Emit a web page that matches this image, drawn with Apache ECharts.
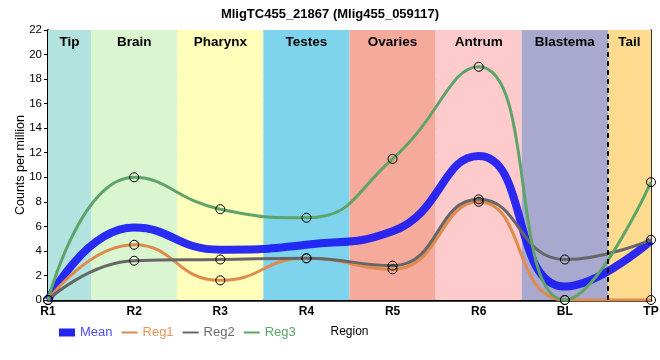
<!DOCTYPE html>
<html><head><meta charset="utf-8">
<script src="https://cdn.jsdelivr.net/npm/echarts@6/dist/echarts.min.js"></script>
<style>html,body{margin:0;padding:0;background:#fff}#c{width:660px;height:360px}</style>
</head><body><div id="c"></div>
<script>
const categories = ['R1','R2','R3','R4','R5','R6','BL','TP'];
const regions = ['Tip','Brain','Pharynx','Testes','Ovaries','Antrum','Blastema','Tail'];
const regionColors = ['#b3e3de','#d9f6d1','#ffffbb','#7ed4ec','#f5aa9c','#fecbcc','#a9a8cf','#fedb8f'];
const reg1 = [0, 4.5, 1.6, 3.4, 2.5, 8.0, 0, 0];
const reg2 = [0, 3.2, 3.3, 3.4, 2.8, 8.2, 3.3, 4.9];
const reg3 = [0, 10.0, 7.4, 6.7, 11.5, 19.0, 0, 9.6];
const mean = reg1.map((v,i)=> +((v+reg2[i]+reg3[i])/3).toFixed(2));
const yTicks = {min:0, max:22, interval:2};

const toXY = arr => arr.map((v,i)=>[i,v]);
const bands = regions.map((r,i)=>[
  {name:r, xAxis: Math.max(0,i-0.5), itemStyle:{color:regionColors[i], opacity:1}},
  {xAxis: Math.min(categories.length-1, i+0.5)}
]);

const chart = echarts.init(document.getElementById('c'));
const font = 'Liberation Sans, Arial, sans-serif';
const lineIcon = 'path://M0 0h40v5h-40z';
const legItem = (name, icon, c, tc) => ({name, icon,
  itemStyle:{color:c, borderColor:c, borderWidth:0, opacity:1},
  lineStyle:{color:c, opacity:1}, textStyle:{color:tc}});
chart.setOption({
  animation:false,
  textStyle:{fontFamily:font},
  title:{text:'MligTC455_21867 (Mlig455_059117)', left:'center', top:3,
    textStyle:{fontSize:13, fontWeight:'bold', color:'#000', fontFamily:font}},
  grid:{left:48, right:9, top:30, bottom:60, outerBoundsMode:'none', containLabel:false},
  legend:{left:54, top:321, itemWidth:16, itemHeight:8, itemGap:9,
    textStyle:{fontSize:13, fontFamily:font},
    data:[
      legItem('Mean','rect','#2323f2','#4d4df5'),
      legItem('Reg1',lineIcon,'#e08a4c','#e8955a'),
      legItem('Reg2',lineIcon,'#666666','#6b6b6b'),
      legItem('Reg3',lineIcon,'#5ea46a','#5aa66a')
    ]},
  xAxis:{type:'value', min:0, max:categories.length-1, interval:1,
    name:'Region', nameLocation:'middle', nameGap:26, nameMoveOverlap:false,
    nameTextStyle:{color:'#000', fontSize:12, fontFamily:font},
    axisLine:{show:true, lineStyle:{color:'#000', width:2.5}},
    axisTick:{show:false},
    axisLabel:{formatter:v=>categories[v]||'', color:'#000', fontWeight:'bold', fontSize:12, margin:6},
    splitLine:{show:true, lineStyle:{color:'#c8c8c8', width:1}}},
  yAxis:[{type:'value', min:yTicks.min, max:yTicks.max, interval:yTicks.interval,
    name:'Counts per million', nameLocation:'middle', nameGap:21, nameMoveOverlap:false,
    nameTextStyle:{color:'#000', fontSize:12.5, fontFamily:font},
    axisLine:{show:true, lineStyle:{color:'#000', width:2}},
    axisTick:{show:true, length:4, lineStyle:{color:'#000'}},
    axisLabel:{color:'#000', fontSize:11.5, margin:6},
    splitLine:{show:true, lineStyle:{color:'#c8c8c8', width:1}}},
   {type:'value', min:yTicks.min, max:yTicks.max, interval:yTicks.interval, position:'right',
    axisLine:{show:true, lineStyle:{color:'#000', width:1.5}},
    axisTick:{show:false}, axisLabel:{show:false}, splitLine:{show:false}}],
  series:[
    {name:'bands', type:'line', data:[], silent:true,
     markArea:{silent:true, label:{show:true, position:'insideTop', distance:5, color:'#000', fontWeight:'bold', fontSize:13.5, fontFamily:font}, data:bands},
     markLine:{silent:true, symbol:'none', label:{show:false},
       lineStyle:{color:'#000', type:[5,4], width:2}, data:[{xAxis:6.5}]}},
    {name:'Mean', type:'line', data:toXY(mean), smooth:0.5, showSymbol:false,
     lineStyle:{color:'#1a1af5', width:8, opacity:0.92}, itemStyle:{color:'#1a1af5'}},
    {name:'Reg1', type:'line', data:toXY(reg1), smooth:0.5, symbol:'circle', symbolSize:9,
     lineStyle:{color:'#e08a4c', width:3}, itemStyle:{color:'rgba(0,0,0,0)', borderColor:'#000', borderWidth:1}},
    {name:'Reg2', type:'line', data:toXY(reg2), smooth:0.5, symbol:'circle', symbolSize:9,
     lineStyle:{color:'#666666', width:3}, itemStyle:{color:'rgba(0,0,0,0)', borderColor:'#000', borderWidth:1}},
    {name:'Reg3', type:'line', data:toXY(reg3), smooth:0.5, symbol:'circle', symbolSize:9,
     lineStyle:{color:'#5ea46a', width:3}, itemStyle:{color:'rgba(0,0,0,0)', borderColor:'#000', borderWidth:1}}
  ]
});
</script></body></html>
